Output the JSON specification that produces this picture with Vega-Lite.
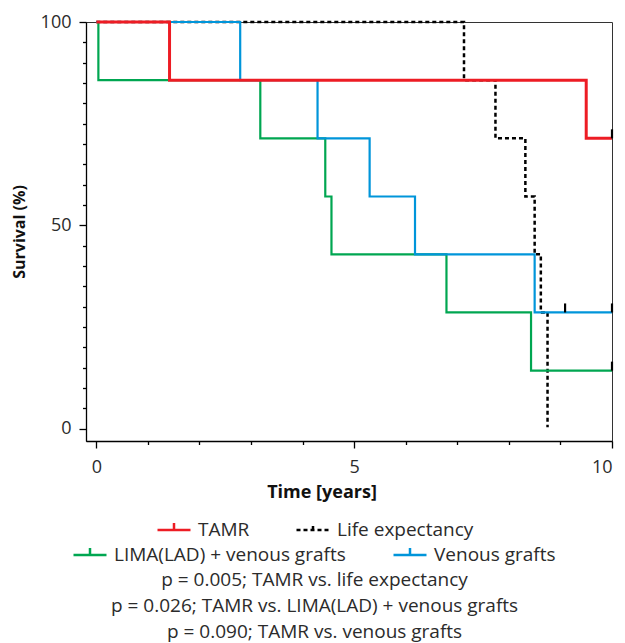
{
  "$schema": "https://vega.github.io/schema/vega-lite/v6.json",
  "width": 526,
  "height": 419,
  "autosize": {"type": "none"},
  "padding": {"left": 86, "top": 22, "right": 13, "bottom": 202},
  "background": "white",
  "config": {
    "font": "Open Sans",
    "view": {"stroke": "#333", "strokeWidth": 1},
    "axis": {
      "grid": false,
      "domainColor": "#000",
      "domainWidth": 1.3,
      "tickColor": "#000",
      "tickWidth": 1.3,
      "labelFont": "Open Sans",
      "labelFontSize": 18,
      "labelColor": "#2b2b2b",
      "titleFont": "Open Sans",
      "titleFontWeight": "bold",
      "titleColor": "#111"
    }
  },
  "datasets": {
    "curves": [
      {"series": "TAMR", "t": 0, "s": 100},
      {"series": "TAMR", "t": 1.42, "s": 85.7},
      {"series": "TAMR", "t": 9.5, "s": 71.4},
      {"series": "TAMR", "t": 10, "s": 71.4},
      {"series": "Life expectancy", "t": 0, "s": 100},
      {"series": "Life expectancy", "t": 7.13, "s": 85.7},
      {"series": "Life expectancy", "t": 7.74, "s": 71.4},
      {"series": "Life expectancy", "t": 8.32, "s": 57.1},
      {"series": "Life expectancy", "t": 8.5, "s": 42.9},
      {"series": "Life expectancy", "t": 8.62, "s": 28.6},
      {"series": "Life expectancy", "t": 8.75, "s": 0.4},
      {"series": "LIMA(LAD) + venous grafts", "t": 0, "s": 100},
      {"series": "LIMA(LAD) + venous grafts", "t": 0.04, "s": 85.7},
      {"series": "LIMA(LAD) + venous grafts", "t": 3.18, "s": 71.4},
      {"series": "LIMA(LAD) + venous grafts", "t": 4.44, "s": 57.1},
      {"series": "LIMA(LAD) + venous grafts", "t": 4.56, "s": 42.9},
      {"series": "LIMA(LAD) + venous grafts", "t": 6.79, "s": 28.6},
      {"series": "LIMA(LAD) + venous grafts", "t": 8.43, "s": 14.3},
      {"series": "LIMA(LAD) + venous grafts", "t": 10, "s": 14.3},
      {"series": "Venous grafts", "t": 0, "s": 100},
      {"series": "Venous grafts", "t": 2.79, "s": 85.7},
      {"series": "Venous grafts", "t": 4.29, "s": 71.4},
      {"series": "Venous grafts", "t": 5.3, "s": 57.1},
      {"series": "Venous grafts", "t": 6.18, "s": 42.9},
      {"series": "Venous grafts", "t": 8.5, "s": 28.6},
      {"series": "Venous grafts", "t": 10, "s": 28.6}
    ],
    "censor": [
      {"series": "TAMR", "t": 10, "s": 71.4},
      {"series": "Venous grafts", "t": 9.09, "s": 28.6},
      {"series": "Venous grafts", "t": 10, "s": 28.6},
      {"series": "LIMA(LAD) + venous grafts", "t": 10, "s": 14.3}
    ]
  },
  "title": {
    "text": ["p = 0.005; TAMR vs. life expectancy", "p = 0.026; TAMR vs. LIMA(LAD) + venous grafts", "p = 0.090; TAMR vs. venous grafts"],
    "orient": "bottom",
    "anchor": "middle",
    "frame": "bounds",
    "font": "Open Sans",
    "fontSize": 19,
    "fontWeight": "normal",
    "color": "#2b2b2b",
    "lineHeight": 26,
    "offset": 6
  },
  "encoding": {
    "x": {
      "field": "t",
      "type": "quantitative",
      "scale": {"domain": [-0.2, 10], "nice": false, "zero": false},
      "axis": {
        "title": "Time [years]",
        "titleFontSize": 18,
        "values": [0, 1, 2, 3, 4, 5, 6, 7, 8, 9, 10],
        "labelExpr": "datum.value % 5 === 0 ? datum.label : ''",
        "tickSize": {"condition": {"test": "datum.value % 5 === 0", "value": 7}, "value": 3.5},
        "labelPadding": 10,
        "titlePadding": 7,
        "titleX": 235.5
      }
    },
    "y": {
      "field": "s",
      "type": "quantitative",
      "scale": {"domain": [-3, 100], "nice": false, "zero": false},
      "axis": {
        "title": "Survival (%)",
        "titleFontSize": 16,
        "values": [0, 5, 10, 15, 20, 25, 30, 35, 40, 45, 50, 55, 60, 65, 70, 75, 80, 85, 90, 95, 100],
        "labelExpr": "datum.value % 50 === 0 ? datum.label : ''",
        "tickSize": {"condition": {"test": "datum.value % 50 === 0", "value": 7}, "value": 3.5},
        "labelPadding": 8,
        "titlePadding": 13
      }
    }
  },
  "layer": [
    {
      "data": {"name": "curves"},
      "transform": [{"filter": "datum.series === 'Life expectancy'"}],
      "mark": {"type": "line", "interpolate": "step-after", "strokeWidth": 2.5},
      "encoding": {
        "stroke": {
          "field": "series", "type": "nominal",
          "scale": {"domain": ["TAMR", "Life expectancy"], "range": ["#ed1c24", "#000000"]},
          "legend": {
            "orient": "none", "legendX": 70, "legendY": 490, "direction": "horizontal", "title": null,
            "symbolType": "M-1,0H1M0,0V-0.42", "symbolSize": 1089, "symbolStrokeWidth": 2.5,
            "labelFont": "Open Sans", "labelFontSize": 19, "labelColor": "#2b2b2b", "labelOffset": 6, "columnPadding": 41, "labelLimit": 0
          }
        },
        "strokeDash": {
          "field": "series", "type": "nominal",
          "scale": {"domain": ["TAMR", "Life expectancy"], "range": [[1, 0], [4, 3]]},
          "legend": {
            "orient": "none", "legendX": 70, "legendY": 490, "direction": "horizontal", "title": null,
            "symbolType": "M-1,0H1M0,0V-0.42", "symbolSize": 1089, "symbolStrokeWidth": 2.5,
            "labelFont": "Open Sans", "labelFontSize": 19, "labelColor": "#2b2b2b", "labelOffset": 6, "columnPadding": 41, "labelLimit": 0
          }
        }
      }
    },
    {
      "data": {"name": "curves"},
      "transform": [{"filter": "datum.series === 'LIMA(LAD) + venous grafts' || datum.series === 'Venous grafts'"}],
      "mark": {"type": "line", "interpolate": "step-after", "strokeWidth": 2.2},
      "encoding": {
        "color": {
          "field": "series", "type": "nominal",
          "scale": {"domain": ["LIMA(LAD) + venous grafts", "Venous grafts"], "range": ["#00a651", "#0095da"]},
          "legend": {
            "orient": "none", "legendX": -14, "legendY": 515, "direction": "horizontal", "title": null,
            "symbolType": "M-1,0H1M0,0V-0.42", "symbolSize": 1089, "symbolStrokeWidth": 2.5,
            "labelFont": "Open Sans", "labelFontSize": 19, "labelColor": "#2b2b2b", "labelOffset": 6, "columnPadding": 42, "labelLimit": 0
          }
        }
      }
    },
    {
      "data": {"name": "curves"},
      "transform": [{"filter": "datum.series === 'TAMR'"}],
      "mark": {"type": "line", "interpolate": "step-after", "strokeWidth": 3},
      "encoding": {
        "stroke": {"field": "series", "type": "nominal"},
        "strokeDash": {"field": "series", "type": "nominal"}
      }
    },
    {
      "data": {"name": "censor"},
      "mark": {"type": "tick", "orient": "vertical", "color": "#000", "size": 9, "thickness": 2.2, "yOffset": -4.5, "opacity": 1}
    }
  ]
}
